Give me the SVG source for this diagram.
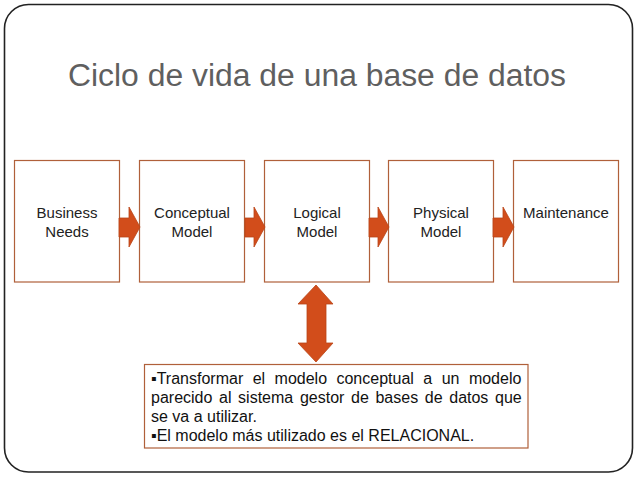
<svg xmlns="http://www.w3.org/2000/svg" width="638" height="479" viewBox="0 0 638 479">
<style>
.frame{fill:#fff;stroke:#222;stroke-width:1.6}
.box{fill:#fff;stroke:#b0603a;stroke-width:1.2}
.arr{fill:#d24d1b;stroke:#b94518;stroke-width:0.8}
.title{font-family:"Liberation Sans","Noto Sans",sans-serif;font-size:31px;fill:#5f5f5f}
.lbl{font-family:"Liberation Sans","Noto Sans",sans-serif;font-size:15px;fill:#222;text-anchor:middle}
.body{font-family:"Liberation Sans","DejaVu Sans",sans-serif;font-size:16px;fill:#111}
</style>
<rect x="0" y="0" width="638" height="479" fill="#fff"/>
<rect class="frame" x="4.5" y="4.5" width="628" height="467.5" rx="24" ry="24"/>
<text class="title" x="68" y="86" textLength="498" lengthAdjust="spacingAndGlyphs">Ciclo de vida de una base de datos</text>
<g id="business-needs">
<rect class="box" x="14.5" y="160.5" width="105" height="121.5"/>
<text class="lbl" x="67" y="218">Business</text>
<text class="lbl" x="67" y="237">Needs</text>
</g>
<g id="conceptual-model">
<rect class="box" x="139.5" y="160.5" width="105" height="121.5"/>
<text class="lbl" x="192" y="218">Conceptual</text>
<text class="lbl" x="192" y="237">Model</text>
</g>
<g id="logical-model">
<rect class="box" x="264.5" y="160.5" width="105" height="121.5"/>
<text class="lbl" x="317" y="218">Logical</text>
<text class="lbl" x="317" y="237">Model</text>
</g>
<g id="physical-model">
<rect class="box" x="388.5" y="160.5" width="105" height="121.5"/>
<text class="lbl" x="441" y="218">Physical</text>
<text class="lbl" x="441" y="237">Model</text>
</g>
<g id="maintenance">
<rect class="box" x="513.5" y="160.5" width="105" height="121.5"/>
<text class="lbl" x="566" y="218">Maintenance</text>
</g>
<g id="connectors">
<polygon class="arr" points="119,218 129,218 129,207 140,227 129,247 129,237 119,237"/>
<polygon class="arr" points="245,218 254,218 254,207 265,227 254,247 254,237 245,237"/>
<polygon class="arr" points="369,218 378,218 378,207 389,227 378,247 378,237 369,237"/>
<polygon class="arr" points="493,218 503,218 503,207 514,227 503,247 503,237 493,237"/>
<polygon class="arr" points="316,285 333,304 326,304 326,343 333,343 316,362 298,343 307,343 307,304 298,304"/>
</g>
<g id="note">
<rect class="box" x="144.5" y="364.5" width="383.5" height="83.5"/>
<text class="body" x="151" y="384" word-spacing="5">▪Transformar el modelo conceptual a un modelo</text>
<text class="body" x="151" y="403" word-spacing="2.2">parecido al sistema gestor de bases de datos que</text>
<text class="body" x="151" y="422">se va a utilizar.</text>
<text class="body" x="151" y="441">▪El modelo más utilizado es el RELACIONAL.</text>
</g>
</svg>
